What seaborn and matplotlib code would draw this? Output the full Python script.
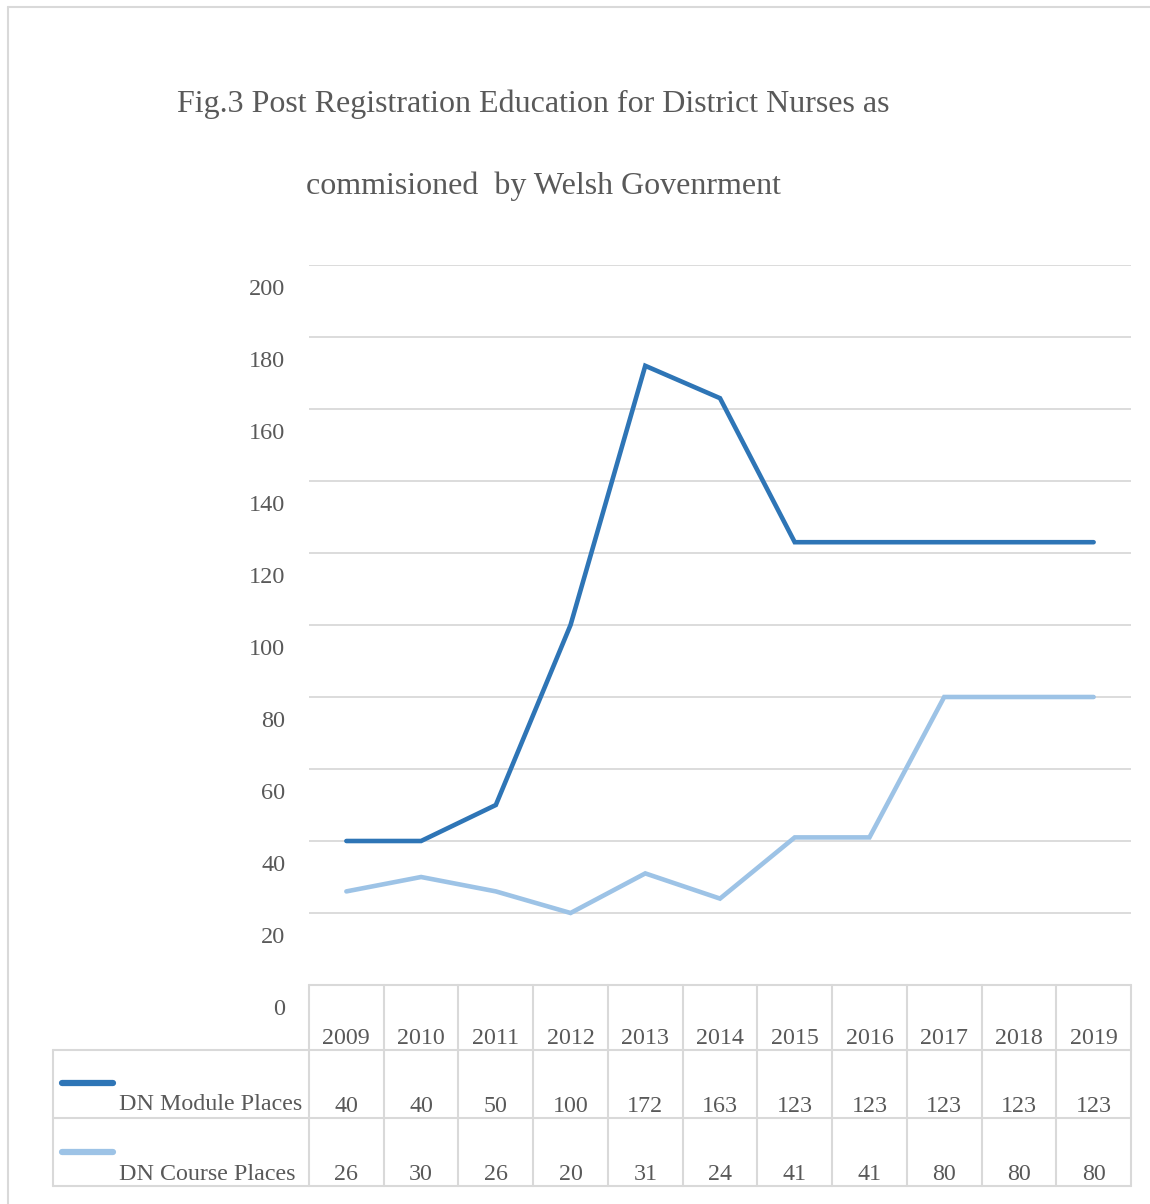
import numpy as np
import pandas as pd
import matplotlib
matplotlib.use("Agg")
import matplotlib.pyplot as plt
import matplotlib.transforms as mtransforms
from matplotlib.lines import Line2D
import seaborn as sns

years = ["2009", "2010", "2011", "2012", "2013", "2014", "2015", "2016", "2017", "2018", "2019"]
module_places = [40, 40, 50, 100, 172, 163, 123, 123, 123, 123, 123]
course_places = [26, 30, 26, 20, 31, 24, 41, 41, 80, 80, 80]
series_names = ["DN Module Places", "DN Course Places"]
y_ticks = [0, 20, 40, 60, 80, 100, 120, 140, 160, 180, 200]
title_lines = ["Fig.3 Post Registration Education for District Nurses as",
               "commisioned  by Welsh Govenrment"]

colors = ["#2e75b6", "#9dc3e6"]
txt = "#595959"
grid = "#d9d9d9"

sns.set_theme(style="white")
plt.rcParams["font.family"] = ["Liberation Serif", "DejaVu Serif"]

W, H = 1150, 1204
fig = plt.figure(figsize=(W / 100, H / 100), dpi=100)

def fx(px):
    return px / W

def fy(py):
    return 1 - py / H

ax_l, ax_r, ax_t, ax_b = 309, 1131, 265, 985
ax = fig.add_axes([fx(ax_l), fy(ax_b), fx(ax_r - ax_l), (ax_b - ax_t) / H])

df = pd.DataFrame({
    "pos": list(range(len(years))) * 2,
    "value": module_places + course_places,
    "series": [series_names[0]] * len(years) + [series_names[1]] * len(years),
})
sns.lineplot(data=df, x="pos", y="value", hue="series", palette=colors,
             linewidth=3.3, ax=ax, legend=False, solid_capstyle="round")
for ln in ax.lines:
    ln.set_solid_joinstyle("miter")

ax.set_xlim(-0.5, len(years) - 0.5)
ax.set_ylim(0, 200)
ax.set_yticks(y_ticks)
ax.set_yticklabels([str(t) for t in y_ticks], fontsize=17.5, color=txt)
ax.set_xticks([])
ax.set_xlabel("")
ax.set_ylabel("")
ax.tick_params(axis="y", length=0, pad=17)
off = mtransforms.ScaledTranslation(0, -22 / 100, fig.dpi_scale_trans)
for lab in ax.get_yticklabels():
    lab.set_transform(lab.get_transform() + off)
ax.grid(axis="y", color=grid, linewidth=1.3)
ax.grid(axis="x", visible=False)
for s in ax.spines.values():
    s.set_visible(False)

# outer chart border
fig.add_artist(Line2D([fx(8), fx(1150)], [fy(7), fy(7)], color=grid, lw=1.5, transform=fig.transFigure))
fig.add_artist(Line2D([fx(8), fx(8)], [fy(7), fy(1204)], color=grid, lw=1.5, transform=fig.transFigure))

# title
fig.text(fx(533), fy(104), title_lines[0], ha="center", va="center", fontsize=23, color=txt)
fig.text(fx(544), fy(186), title_lines[1], ha="center", va="center", fontsize=23, color=txt)

# data table
blend = mtransforms.blended_transform_factory(ax.transData, fig.transFigure)
n = len(years)
row_y = [985, 1050, 1118, 1186]
lw_t = 1.5
fig.add_artist(Line2D([fx(ax_l), fx(ax_r)], [fy(985), fy(985)], color=grid, lw=lw_t, transform=fig.transFigure))
for yy in row_y[1:]:
    fig.add_artist(Line2D([fx(53), fx(ax_r)], [fy(yy), fy(yy)], color=grid, lw=lw_t, transform=fig.transFigure))
for i in range(n + 1):
    xx = i - 0.5
    fig.add_artist(Line2D([xx, xx], [fy(985), fy(1186)], color=grid, lw=lw_t, transform=blend))
fig.add_artist(Line2D([fx(53), fx(53)], [fy(1050), fy(1186)], color=grid, lw=lw_t, transform=fig.transFigure))

fs_t = 17.3
for i, yr in enumerate(years):
    fig.text(i, fy(1038), yr, ha="center", va="center", fontsize=fs_t, color=txt, transform=blend)
    fig.text(i, fy(1106), str(module_places[i]), ha="center", va="center", fontsize=fs_t, color=txt, transform=blend)
    fig.text(i, fy(1175), str(course_places[i]), ha="center", va="center", fontsize=fs_t, color=txt, transform=blend)

for name, col, ly, ty in zip(series_names, colors, [1083, 1152], [1105, 1174]):
    fig.add_artist(Line2D([fx(62), fx(113)], [fy(ly), fy(ly)], color=col, lw=4.5,
                          solid_capstyle="round", transform=fig.transFigure))
    fig.text(fx(119), fy(ty), name, ha="left", va="center", fontsize=fs_t, color=txt)

fig.savefig("out.png", dpi=100)
